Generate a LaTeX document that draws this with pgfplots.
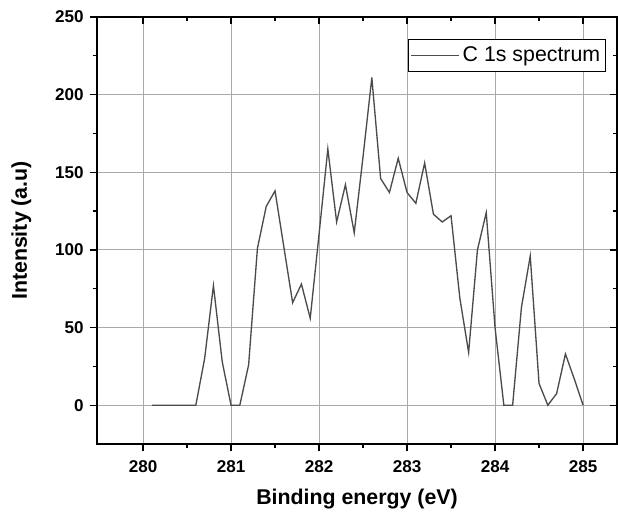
\documentclass[border=0pt]{standalone}
\usepackage{pgfplots}
\pgfplotsset{compat=1.18}
\usepackage{fontspec}
\setmainfont{Liberation Sans}
\definecolor{linegray}{RGB}{75,75,75}
\definecolor{gridgray}{RGB}{170,170,170}
\begin{document}
\begin{tikzpicture}
\begin{axis}[
  name=main,
  scale only axis,
  width=390pt, height=320.25pt,
  xmin=279.477, xmax=285.386,
  ymin=-25, ymax=250,
  xtick={280,281,282,283,284,285},
  ytick={0,50,100,150,200,250},
  minor x tick num=1, minor y tick num=1,
  xtick pos=bottom, ytick pos=left,
  tick align=outside,
  major tick length=5.5pt, minor tick length=3pt,
  tick style={black, line width=0.9pt},
  axis line style={black, line width=1pt},
  grid=major,
  major grid style={gridgray, line width=0.75pt},
  /pgf/number format/assume math mode=true,
  /pgf/number format/1000 sep={},
  ticklabel style={font=\fontsize{12.8}{15}\selectfont\bfseries},
  xticklabel style={yshift=-3.5pt},
  yticklabel style={xshift=-1pt},
  xlabel={Binding energy (eV)},
  ylabel={Intensity (a.u)},
  label style={font=\fontsize{16}{19}\selectfont\bfseries},
  xlabel style={yshift=-5pt},
  ylabel style={yshift=11pt},
  legend style={at={(rel axis cs:0.9788,0.9485)}, anchor=north east,
    draw=black, line width=0.6pt, font=\fontsize{16}{18}\selectfont,
    inner xsep=2pt, inner ysep=3.5pt, row sep=0pt},
  legend cell align=left,
  legend image code/.code={\draw[linegray, line width=0.9pt] (0cm,0cm) -- (36pt,0cm);},
]
\addplot[linegray, line width=1pt] coordinates {
(280.1,0) (280.2,0) (280.3,0) (280.4,0) (280.5,0) (280.6,0)
(280.7,30) (280.8,77) (280.9,28) (281.0,0) (281.1,0) (281.2,26)
(281.3,101) (281.4,128) (281.5,138) (281.6,102) (281.7,66) (281.8,78)
(281.9,56) (282.0,110) (282.1,165) (282.2,118) (282.3,142) (282.4,111)
(282.5,160) (282.6,211) (282.7,146) (282.8,137) (282.9,159) (283.0,137)
(283.1,130) (283.2,156) (283.3,123) (283.4,118) (283.5,122) (283.6,69)
(283.7,34) (283.8,100) (283.9,124) (284.0,50) (284.1,0) (284.2,0)
(284.3,63) (284.4,96) (284.5,14) (284.6,0) (284.7,7.5) (284.8,33)
(284.9,17) (285.0,0)
};
\addlegendentry{C 1s spectrum}
\end{axis}
\begin{axis}[
  scale only axis,
  width=390pt, height=320.25pt,
  xmin=279.477, xmax=285.386,
  ymin=-25, ymax=250,
  xtick={280,281,282,283,284,285},
  ytick={0,50,100,150,200,250},
  minor x tick num=1, minor y tick num=1,
  xtick pos=top, ytick pos=right,
  tick align=inside,
  major tick length=5.5pt, minor tick length=3pt,
  tick style={black, line width=0.9pt},
  axis line style={black, line width=1pt},
  xticklabels={}, yticklabels={},
]
\end{axis}
\pgfresetboundingbox
\path ([xshift=-72.75pt,yshift=-54pt]main.south west) rectangle ([xshift=0.75pt,yshift=12.75pt]main.north east);
\end{tikzpicture}
\end{document}
